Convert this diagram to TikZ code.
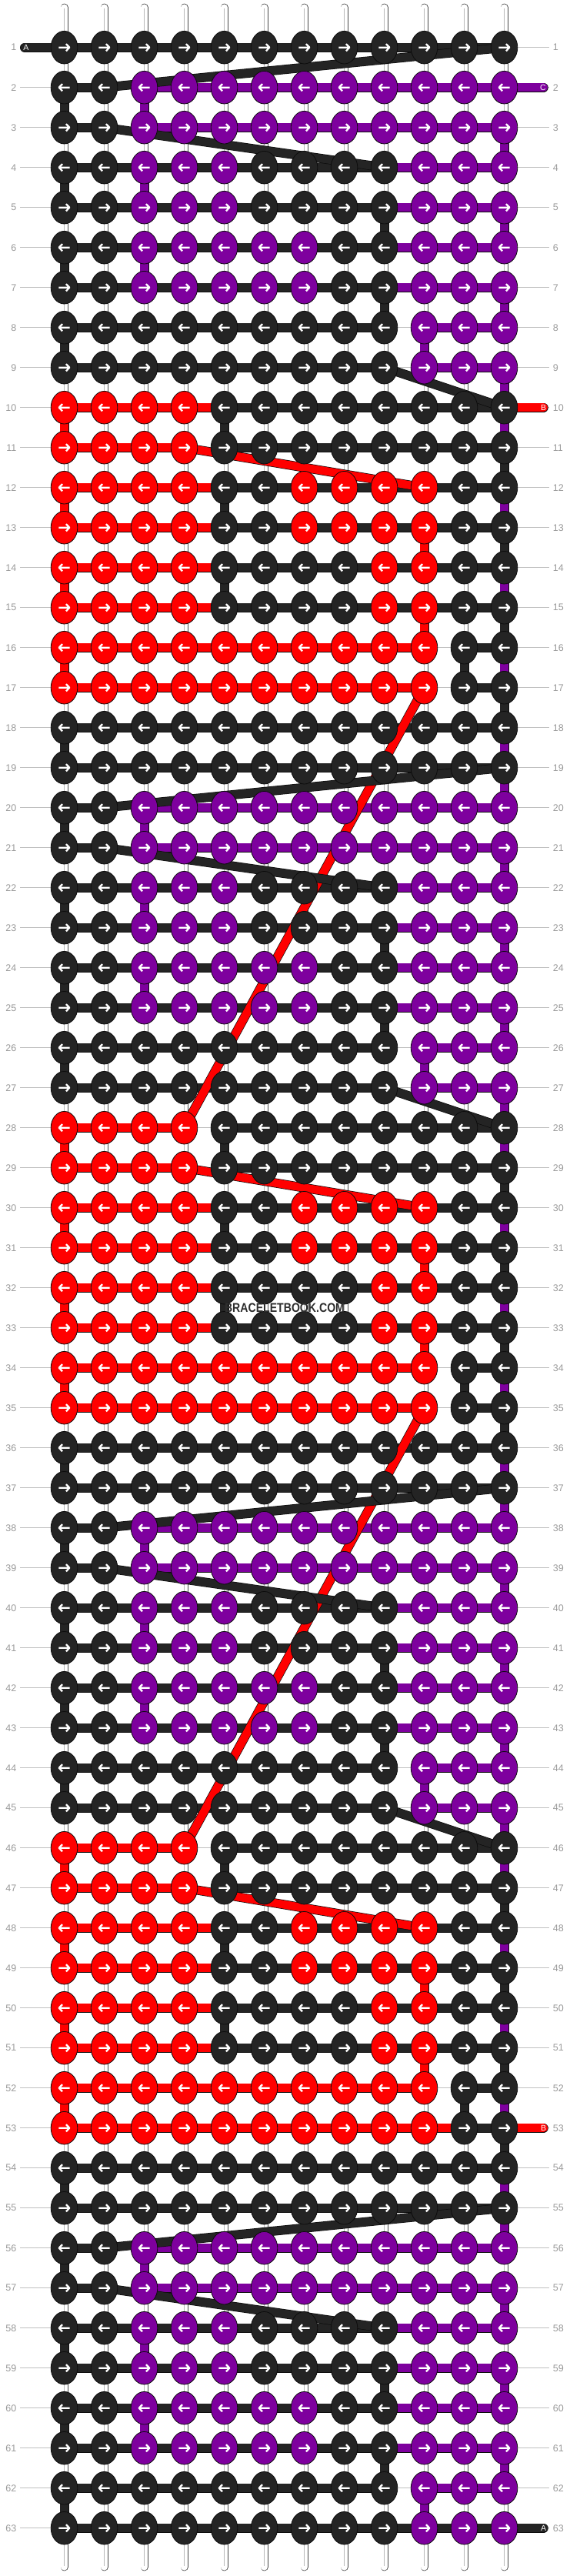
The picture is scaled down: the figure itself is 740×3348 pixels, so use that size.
\documentclass[tikz,border=0pt]{standalone}
\usepackage{fontspec}
\setmainfont{Liberation Sans}
\usepackage{graphicx}
\usetikzlibrary{shapes.geometric}
\definecolor{cK}{RGB}{36,36,36}
\definecolor{cP}{RGB}{126,0,158}
\definecolor{cR}{RGB}{255,0,0}
\definecolor{outl}{RGB}{12,12,12}
\definecolor{labgray}{RGB}{155,155,155}
\definecolor{linegray}{RGB}{192,192,192}
\definecolor{basegray}{RGB}{70,70,70}
\newcommand\Hs[4]{\pgfmathtruncatemacro\hrow{#1}\draw[strg,double=#4] (g\hrow-#2) -- (g\hrow-#3);}
\newcommand\Vs[3]{\pgfmathtruncatemacro\vrowa{#1}\pgfmathtruncatemacro\vrowb{#1+1}\draw[strg,double=#3] (g\vrowa-#2) -- (g\vrowb-#2);}
\newcommand\Vl[4]{\pgfmathtruncatemacro\vrowa{#1}\pgfmathtruncatemacro\vrowb{#2}\draw[strg,double=#4] (g\vrowa-#3) -- (g\vrowb-#3);}
\newcommand\Ds[5]{\pgfmathtruncatemacro\drowa{#1}\pgfmathtruncatemacro\drowb{#3}\draw[strg,double=#5] (g\drowa-#2) -- (g\drowb-#4);}
\begin{document}
\begin{tikzpicture}[x=1pt,y=-1pt,
  strg/.style={draw=outl,line width=0.7pt,double distance=10.6pt},
  tabstr/.style={strg,line cap=round},
  knot/.style={ellipse,draw=outl,line width=0.8pt,minimum width=34.6pt,minimum height=42.6pt,inner sep=0pt},
  arrw/.style={draw=white,line width=2.3pt,line join=round},
  basestr/.style={draw=basegray,line width=0.7pt,double=white,double distance=8.6pt,line cap=round},
  baseline/.style={draw=black!28,line width=0.6pt},
  rowline/.style={draw=linegray,line width=0.9pt},
  lab/.style={text=labgray,font=\fontsize{12.5}{14}\selectfont,inner sep=0pt},
  tablab/.style={text=white,font=\fontsize{10.5}{12}\selectfont,inner sep=0pt},
  wm/.style={text=black!82,font=\fontsize{16.5}{18}\selectfont\bfseries,inner sep=0pt}]
\useasboundingbox (0,0) rectangle (740,3348);
\fill[white] (0,0) rectangle (740,3348);
% grid coordinates
\foreach \r in {1,...,63}{\foreach \c in {1,...,12}{\coordinate (g\r-\c) at ({83.5+52*(\c-1)},{61.7+52*(\r-1)});}}
\coordinate (tabA1) at (32,61.7);
\coordinate (tabC2) at (706.7,113.7);
\coordinate (tabB10) at (706.7,529.7);
\coordinate (tabB53) at (706.7,2765.7);
\coordinate (tabA63) at (706.7,3285.7);
% row lines
\foreach \r in {1,...,63}{
  \coordinate (rl\r) at (26,{61.7+52*(\r-1)});
  \coordinate (rr\r) at (714,{61.7+52*(\r-1)});
  \draw[rowline] (rl\r) -- (rr\r);
}
% base strings
\foreach \c in {1,...,12}{
  \coordinate (bt\c) at ({83.5+52*(\c-1)},9.7);
  \coordinate (bb\c) at ({83.5+52*(\c-1)},3336.3);
  \draw[basestr] (bt\c) -- (bb\c);
  \draw[baseline] ([yshift=-1pt]bt\c) -- ([yshift=1pt]bb\c);
}
% string C (purple)
\draw[tabstr,double=cP] (g2-12) -- (tabC2);
\foreach \p in {0,18,36,54}{
  \Hs{\p+2}{3}{12}{cP} \Vs{\p+2}{3}{cP}
  \Hs{\p+3}{3}{12}{cP} \Vs{\p+3}{12}{cP}
  \Hs{\p+4}{3}{12}{cP} \Vs{\p+4}{3}{cP}
  \Hs{\p+5}{3}{12}{cP} \Vs{\p+5}{12}{cP}
  \Hs{\p+6}{3}{12}{cP} \Vs{\p+6}{3}{cP}
  \Hs{\p+7}{3}{12}{cP} \Vs{\p+7}{12}{cP}
  \Hs{\p+8}{10}{12}{cP} \Vs{\p+8}{10}{cP}
  \Hs{\p+9}{10}{12}{cP}
  \ifnum\p<54\relax \Vl{\p+9}{\p+20}{12}{cP}\fi
}
% string B (red)
\draw[tabstr,double=cR] (g10-12) -- (tabB10);
\Hs{10}{4}{12}{cR}
\draw[tabstr,double=cR] (g53-10) -- (tabB53);
\foreach \p in {0,18,36}{
  \Hs{\p+10}{1}{4}{cR} \Vs{\p+10}{1}{cR}
  \Hs{\p+11}{1}{4}{cR}
  \Hs{\p+12}{1}{10}{cR} \Vs{\p+12}{1}{cR}
  \Hs{\p+13}{1}{10}{cR} \Vs{\p+13}{10}{cR}
  \Hs{\p+14}{1}{10}{cR} \Vs{\p+14}{1}{cR}
  \Hs{\p+15}{1}{10}{cR} \Vs{\p+15}{10}{cR}
  \Hs{\p+16}{1}{10}{cR} \Vs{\p+16}{1}{cR}
  \Hs{\p+17}{1}{10}{cR}
}
% string A (black)
\draw[tabstr,double=cK] (tabA1) -- (g1-1);
\draw[tabstr,double=cK] (g63-9) -- (tabA63);
\foreach \p in {0,18,36,54}{
  \Hs{\p+1}{1}{12}{cK}
  \Hs{\p+2}{1}{2}{cK} \Vs{\p+2}{1}{cK}
  \Hs{\p+3}{1}{2}{cK}
  \Hs{\p+4}{1}{9}{cK} \Vs{\p+4}{1}{cK}
  \Hs{\p+5}{1}{9}{cK} \Vs{\p+5}{9}{cK}
  \Hs{\p+6}{1}{9}{cK} \Vs{\p+6}{1}{cK}
  \Hs{\p+7}{1}{9}{cK} \Vs{\p+7}{9}{cK}
  \Hs{\p+8}{1}{9}{cK} \Vs{\p+8}{1}{cK}
  \Hs{\p+9}{1}{9}{cK}
  \ifnum\p<54\relax
    \Hs{\p+10}{5}{12}{cK} \Vs{\p+10}{5}{cK}
    \Hs{\p+11}{5}{12}{cK} \Vs{\p+11}{12}{cK}
    \Hs{\p+12}{5}{12}{cK} \Vs{\p+12}{5}{cK}
    \Hs{\p+13}{5}{12}{cK} \Vs{\p+13}{12}{cK}
    \Hs{\p+14}{5}{12}{cK} \Vs{\p+14}{5}{cK}
    \Hs{\p+15}{5}{12}{cK} \Vs{\p+15}{12}{cK}
    \Hs{\p+16}{11}{12}{cK} \Vs{\p+16}{11}{cK}
    \Hs{\p+17}{11}{12}{cK} \Vs{\p+17}{12}{cK}
    \Hs{\p+18}{1}{12}{cK} \Vs{\p+18}{1}{cK}
  \fi
}
% diagonals B
\foreach \p in {0,18,36}{
  \Ds{\p+11}{4}{\p+12}{10}{cR}
  \ifnum\p<36\relax \Ds{\p+17}{10}{\p+28}{4}{cR}\fi
}
% diagonals A
\foreach \p in {0,18,36,54}{
  \Ds{\p+1}{12}{\p+2}{2}{cK}
  \Ds{\p+3}{2}{\p+4}{9}{cK}
  \ifnum\p<54\relax \Ds{\p+9}{9}{\p+10}{12}{cK}\fi
}
% knots
\foreach \r in {1,...,63}{
  \pgfmathtruncatemacro\tp{mod(\r-1,18)+1}
  \pgfmathtruncatemacro\dir{2*mod(\r,2)-1}
  \ifcase\tp\or
    \def\cl{K,K,K,K,K,K,K,K,K,K,K,K}\or
    \def\cl{K,K,P,P,P,P,P,P,P,P,P,P}\or
    \def\cl{K,K,P,P,P,P,P,P,P,P,P,P}\or
    \def\cl{K,K,P,P,P,K,K,K,K,P,P,P}\or
    \def\cl{K,K,P,P,P,K,K,K,K,P,P,P}\or
    \def\cl{K,K,P,P,P,P,P,K,K,P,P,P}\or
    \def\cl{K,K,P,P,P,P,P,K,K,P,P,P}\or
    \def\cl{K,K,K,K,K,K,K,K,K,P,P,P}\or
    \def\cl{K,K,K,K,K,K,K,K,K,P,P,P}\or
    \def\cl{R,R,R,R,K,K,K,K,K,K,K,K}\or
    \def\cl{R,R,R,R,K,K,K,K,K,K,K,K}\or
    \def\cl{R,R,R,R,K,K,R,R,R,R,K,K}\or
    \def\cl{R,R,R,R,K,K,R,R,R,R,K,K}\or
    \def\cl{R,R,R,R,K,K,K,K,R,R,K,K}\or
    \def\cl{R,R,R,R,K,K,K,K,R,R,K,K}\or
    \def\cl{R,R,R,R,R,R,R,R,R,R,K,K}\or
    \def\cl{R,R,R,R,R,R,R,R,R,R,K,K}\or
    \def\cl{K,K,K,K,K,K,K,K,K,K,K,K}\fi
  \foreach \kc [count=\c] in \cl {
    \node[knot,fill=c\kc] (k\r-\c) at (g\r-\c) {};
    \draw[arrw,shift={(g\r-\c)},xscale=\dir] (-7.2,0) -- (6.8,0) (2.4,-4.6) -- (6.8,0) -- (2.4,4.6);
  }
}
% row labels
\foreach \r in {1,...,63}{
  \node[lab,anchor=east] (ll\r) at (21.6,{61.7+52*(\r-1)}) {\r};
  \node[lab,anchor=west] (lr\r) at (718.6,{61.7+52*(\r-1)}) {\r};
}
% tab letters
\node[tablab] (ltA1) at (34,61.7) {A};
\node[tablab] (ltC2) at (706,113.7) {C};
\node[tablab] (ltB10) at (706.5,529.7) {B};
\node[tablab] (ltB53) at (706.5,2765.7) {B};
\node[tablab] (ltA63) at (706.5,3285.7) {A};
% watermark
\node[wm] (wmark) at (370,1699.5) {\scalebox{0.855}[1]{BRACELETBOOK.COM}};
\end{tikzpicture}
\end{document}
